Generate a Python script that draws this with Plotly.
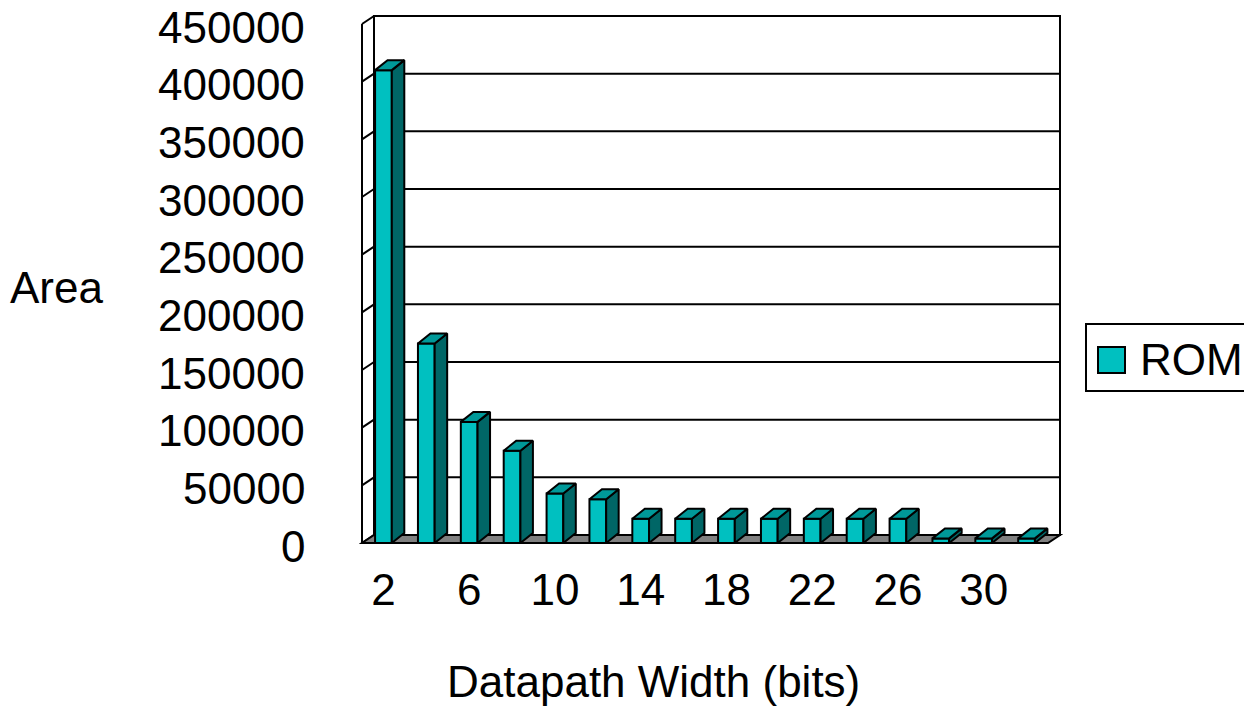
import plotly.graph_objects as go

# ---- data -------------------------------------------------------------
datapath_width = [2, 4, 6, 8, 10, 12, 14, 16, 18, 20, 22, 24, 26, 28, 30, 32]
rom_area = [410000, 173000, 105000, 80000, 43000, 38000, 21000, 21000,
            21000, 21000, 21000, 21000, 21000, 4000, 4000, 4000]
x_tick_vals = [2, 6, 10, 14, 18, 22, 26, 30]
x_tick_text = ["2", "6", "10", "14", "18", "22", "26", "30"]
y_tick_vals = [0, 50000, 100000, 150000, 200000, 250000, 300000, 350000, 400000, 450000]
y_tick_text = ["0", "50000", "100000", "150000", "200000", "250000",
               "300000", "350000", "400000", "450000"]
series_name = "ROM"

# ---- styling ----------------------------------------------------------
FONT = "Arial, Liberation Sans, sans-serif"
FS = 44
FRONT = "#00C0C0"
TOP = "#009999"
SIDE = "#006666"
FLOOR = "#808080"
EDGE = "black"
LW = 2

W, H = 1244, 709
# pixel scale of the front plane
front_left_px, front_bottom_px = 362, 543
kx = 21.4375            # px per x unit (one category = 2 units)
ky = 519 / 450000       # px per y unit
pad = 3                 # px of breathing room so edge lines are not clipped

x_lo, x_hi = 1, 33      # front plane x extent
y_top = 450000
wdx, wdy = 12 / kx, 8 / ky      # wall depth offset
bdx, bdy = 12.5 / kx, 10 / ky   # bar depth offset
hw = 0.39                        # half bar width

x_range = [x_lo - pad / kx, x_hi + wdx + pad / kx]
y_range = [-pad / ky, y_top + wdy + pad / ky]
plot_w = (x_range[1] - x_range[0]) * kx
plot_h = (y_range[1] - y_range[0]) * ky
m_l = front_left_px - pad
m_b = H - front_bottom_px - pad
m_t = H - m_b - plot_h
m_r = W - m_l - plot_w

shapes = []

def line(x0, y0, x1, y1, color=EDGE, width=LW):
    shapes.append(dict(type="line", xref="x", yref="y", x0=x0, y0=y0, x1=x1, y1=y1,
                       line=dict(color=color, width=width), layer="below"))

# back wall
shapes.append(dict(type="rect", xref="x", yref="y", x0=x_lo + wdx, y0=wdy,
                   x1=x_hi + wdx, y1=y_top + wdy, fillcolor="white",
                   line=dict(color=EDGE, width=LW), layer="below"))
# left wall outline
line(x_lo, 0, x_lo, y_top)
line(x_lo + wdx, wdy, x_lo + wdx, y_top + wdy)
# gridlines across back wall and diagonals on left wall
for v in y_tick_vals:
    line(x_lo + wdx, v + wdy, x_hi + wdx, v + wdy)
    line(x_lo, v, x_lo + wdx, v + wdy)
# floor
shapes.append(dict(type="path", xref="x", yref="y",
                   path=f"M {x_lo},0 L {x_hi},0 L {x_hi + wdx},{wdy} L {x_lo + wdx},{wdy} Z",
                   fillcolor=FLOOR, line=dict(color=EDGE, width=LW), layer="below"))

fig = go.Figure()

# front faces of the columns
fig.add_trace(go.Bar(x=datapath_width, y=rom_area, width=2 * hw,
                     marker=dict(color=FRONT, line=dict(color=EDGE, width=LW)),
                     name=series_name, showlegend=False, hoverinfo="x+y"))

# side and top faces, built from the same values
side_x, side_y, top_x, top_y = [], [], [], []
for c, v in zip(datapath_width, rom_area):
    side_x += [c + hw, c + hw + bdx, c + hw + bdx, c + hw, c + hw, None]
    side_y += [0, bdy, v + bdy, v, 0, None]
    top_x += [c - hw, c + hw, c + hw + bdx, c - hw + bdx, c - hw, None]
    top_y += [v, v, v + bdy, v + bdy, v, None]

fig.add_trace(go.Scatter(x=side_x, y=side_y, mode="lines", fill="toself",
                         fillcolor=SIDE, line=dict(color=EDGE, width=LW),
                         showlegend=False, hoverinfo="skip"))
fig.add_trace(go.Scatter(x=top_x, y=top_y, mode="lines", fill="toself",
                         fillcolor=TOP, line=dict(color=EDGE, width=LW),
                         showlegend=False, hoverinfo="skip"))

# legend box drawn in paper space
def px_to_paper_x(px):
    return (px - m_l) / plot_w

def px_to_paper_y(py):
    return (H - m_b - py) / plot_h

shapes.append(dict(type="rect", xref="paper", yref="paper",
                   x0=px_to_paper_x(1086), x1=px_to_paper_x(1252),
                   y0=px_to_paper_y(391), y1=px_to_paper_y(324),
                   fillcolor="white", line=dict(color=EDGE, width=LW), layer="above"))
shapes.append(dict(type="rect", xref="paper", yref="paper",
                   x0=px_to_paper_x(1098), x1=px_to_paper_x(1125),
                   y0=px_to_paper_y(373), y1=px_to_paper_y(347),
                   fillcolor=FRONT, line=dict(color=EDGE, width=LW), layer="above"))

text_font = dict(family=FONT, size=FS, color="black")
annotations = [
    dict(text=series_name, xref="paper", yref="paper", x=px_to_paper_x(1138),
         y=px_to_paper_y(359), xanchor="left", yanchor="middle", showarrow=False,
         font=text_font),
    dict(text="Area", xref="paper", yref="paper", x=px_to_paper_x(57),
         y=px_to_paper_y(287), xanchor="center", yanchor="middle", showarrow=False,
         font=text_font),
    dict(text="Datapath Width (bits)", xref="paper", yref="paper", x=px_to_paper_x(653),
         y=px_to_paper_y(681), xanchor="center", yanchor="middle", showarrow=False,
         font=text_font),
]

# value labels of the vertical axis, right-aligned left of the wall
for v, t in zip(y_tick_vals, y_tick_text):
    annotations.append(dict(text=t, xref="paper", yref="y", x=px_to_paper_x(307), y=v,
                            xanchor="right", yanchor="middle", yshift=-3,
                            showarrow=False, font=text_font))

fig.update_layout(
    width=W, height=H,
    margin=dict(l=m_l, r=m_r, t=m_t, b=m_b, autoexpand=False),
    paper_bgcolor="white", plot_bgcolor="white",
    shapes=shapes, annotations=annotations,
    showlegend=False,
    font=text_font,
    xaxis=dict(range=x_range, tickvals=x_tick_vals, ticktext=x_tick_text,
               showgrid=False, zeroline=False, showline=False, ticks="",
               ticklabelstandoff=14, tickfont=text_font, fixedrange=True),
    yaxis=dict(range=y_range, showgrid=False, zeroline=False, showline=False,
               ticks="", showticklabels=False, fixedrange=True),
)

fig.write_html("out.html", config={"displayModeBar": False})
